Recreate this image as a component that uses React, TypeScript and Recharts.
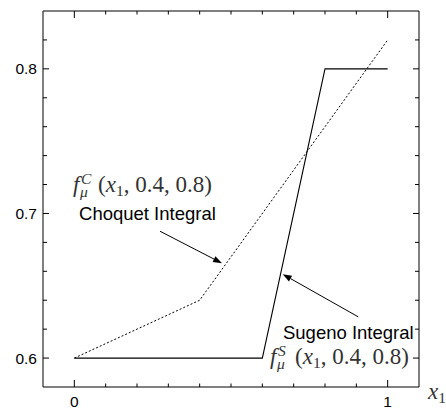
import React from 'react';
import { LineChart, Line, XAxis, YAxis, ReferenceDot, ReferenceLine, ReferenceArea } from 'recharts';

// ---- data ----
const choquetX = [0, 0.4, 1];
const choquetY = [0.6, 0.64, 0.82];
const sugenoX = [0, 0.6, 0.8, 1];
const sugenoY = [0.6, 0.6, 0.8, 0.8];

const xTicks = [0, 0.1, 0.2, 0.3, 0.4, 0.5, 0.6, 0.7, 0.8, 0.9, 1];
const xLabelTicks = [0, 1];
const yTicks = [0.6, 0.62, 0.64, 0.66, 0.68, 0.7, 0.72, 0.74, 0.76, 0.78, 0.8, 0.82];
const yLabelTicks = [0.6, 0.7, 0.8];

const xDomain = [-0.1, 1.1];
const yDomain = [0.58, 0.84];

const choquetData = choquetX.map((x, i) => ({ x, y: choquetY[i] }));
const sugenoData = sugenoX.map((x, i) => ({ x, y: sugenoY[i] }));

// annotation anchors (data coordinates)
const choquetArrow = [{ x: 0.2735, y: 0.6877 }, { x: 0.4713, y: 0.6656 }];
const sugenoArrow = [{ x: 0.9062, y: 0.6285 }, { x: 0.665, y: 0.658 }];
const choquetMath = { x: -0.0073, y: 0.7146 };
const choquetText = { x: 0.015, y: 0.6953 };
const sugenoText = { x: 0.6659, y: 0.6135 };
const sugenoMath = { x: 0.6213, y: 0.5959 };

const SANS = "'Liberation Sans', Arial, Helvetica, sans-serif";
const SERIF = "'Liberation Serif', 'Times New Roman', serif";

const isIn = (v: number, arr: number[]) => arr.some((a) => Math.abs(a - v) < 1e-9);

const BottomTick = (props: any) => {
  const { x, y, payload } = props;
  if (!isIn(payload.value, xLabelTicks)) return <g />;
  return (
    <text x={x} y={y + 19.5} textAnchor="middle" fontFamily={SANS} fontSize={15.5} fill="#000" stroke="none">
      {String(payload.value)}
    </text>
  );
};

const LeftTick = (props: any) => {
  const { x, y, payload } = props;
  if (!isIn(payload.value, yLabelTicks)) return <g />;
  return (
    <text x={x - 6} y={y + 5.5} textAnchor="end" fontFamily={SANS} fontSize={15.5} fill="#000" stroke="none">
      {payload.value.toFixed(1)}
    </text>
  );
};

// inward tick marks at both ends of a reference line
const vTickShape = (major: boolean) => (p: any) => {
  const top = Math.min(p.y1, p.y2);
  const bot = Math.max(p.y1, p.y2);
  const L = major ? 7 : 3.5;
  return (
    <path
      d={`M${p.x1},${top}L${p.x1},${top + L}M${p.x1},${bot}L${p.x1},${bot - L}`}
      stroke="#000"
      strokeWidth={1}
      fill="none"
    />
  );
};

const hTickShape = (major: boolean) => (p: any) => {
  const left = Math.min(p.x1, p.x2);
  const right = Math.max(p.x1, p.x2);
  const L = major ? 6 : 4;
  return (
    <path
      d={`M${left},${p.y1}L${left + L},${p.y1}M${right},${p.y1}L${right - L},${p.y1}`}
      stroke="#000"
      strokeWidth={1}
      fill="none"
    />
  );
};

const Arrow = (props: any) => {
  const { x1, y1, x2, y2 } = props;
  const dx = x2 - x1;
  const dy = y2 - y1;
  const len = Math.sqrt(dx * dx + dy * dy) || 1;
  const ux = dx / len;
  const uy = dy / len;
  const hl = 9;
  const hw = 3.2;
  const bx = x2 - ux * hl;
  const by = y2 - uy * hl;
  return (
    <g>
      <line x1={x1} y1={y1} x2={bx} y2={by} stroke="#000" strokeWidth={1} />
      <polygon
        points={`${x2},${y2} ${bx - uy * hw},${by + ux * hw} ${bx + uy * hw},${by - ux * hw}`}
        fill="#000"
      />
    </g>
  );
};

const mathLabel = (sup: string) => (props: any) => {
  const { cx, cy } = props;
  return (
    <g fill="#333" fontFamily={SERIF}>
      <text x={cx + 1} y={cy} fontSize={23} fontStyle="italic">f</text>
      <text x={cx + 8} y={cy + 5} fontSize={15.5} fontStyle="italic">μ</text>
      <text x={cx + 9} y={cy - 8} fontSize={15.5} fontStyle="italic">{sup}</text>
      <text x={cx + 26} y={cy} fontSize={23}>
        <tspan>(</tspan>
        <tspan fontStyle="italic">x</tspan>
        <tspan fontSize={15.5} dy={4}>1</tspan>
        <tspan dy={-4}>, 0.4, 0.8)</tspan>
      </text>
    </g>
  );
};

const plainLabel = (txt: string) => (props: any) => {
  const { cx, cy } = props;
  return (
    <text x={cx} y={cy} fontFamily={SANS} fontSize={18.5} fill="#000">
      {txt}
    </text>
  );
};

const XLabel = (props: any) => {
  const vb = props.viewBox || {};
  return (
    <text x={vb.x + vb.width + 9} y={vb.y + 12} fontFamily={SERIF} fontSize={23} fill="#333">
      <tspan fontStyle="italic">x</tspan>
      <tspan fontSize={15.5} dy={4}>1</tspan>
    </text>
  );
};

export default function App() {
  return (
    <div style={{ position: 'absolute', left: 0, top: 0, width: 446, height: 408, background: '#fff' }}>
      <LineChart width={446} height={408} margin={{ top: 11, right: 27, bottom: 0, left: 0 }}>
        <XAxis
          xAxisId="bottom"
          dataKey="x"
          type="number"
          orientation="bottom"
          domain={xDomain}
          ticks={xTicks}
          interval={0}
          height={21}
          tickSize={0}
          tickMargin={0}
          tickLine={false}
          tick={<BottomTick />}
          axisLine={false}
          allowDataOverflow
          label={<XLabel />}
        />
        <YAxis
          yAxisId="left"
          type="number"
          orientation="left"
          domain={yDomain}
          ticks={yTicks}
          interval={0}
          width={43}
          tickSize={0}
          tickMargin={0}
          tickLine={false}
          tick={<LeftTick />}
          axisLine={false}
          allowDataOverflow
        />
        <ReferenceArea
          xAxisId="bottom"
          yAxisId="left"
          x1={xDomain[0]}
          x2={xDomain[1]}
          y1={yDomain[0]}
          y2={yDomain[1]}
          fill="none"
          fillOpacity={0}
          stroke="#000"
          strokeWidth={1}
          strokeOpacity={1}
        />
        {xTicks.map((t) => (
          <ReferenceLine
            key={`xt${t}`}
            xAxisId="bottom"
            yAxisId="left"
            x={t}
            shape={vTickShape(isIn(t, xLabelTicks))}
          />
        ))}
        {yTicks.map((t) => (
          <ReferenceLine
            key={`yt${t}`}
            xAxisId="bottom"
            yAxisId="left"
            y={t}
            shape={hTickShape(isIn(t, yLabelTicks))}
          />
        ))}
        <Line
          xAxisId="bottom"
          yAxisId="left"
          data={choquetData}
          dataKey="y"
          stroke="#000"
          strokeWidth={1}
          strokeDasharray="2 2"
          dot={false}
          isAnimationActive={false}
        />
        <Line
          xAxisId="bottom"
          yAxisId="left"
          data={sugenoData}
          dataKey="y"
          stroke="#000"
          strokeWidth={1.1}
          dot={false}
          isAnimationActive={false}
        />
        <ReferenceLine xAxisId="bottom" yAxisId="left" segment={choquetArrow} shape={Arrow} />
        <ReferenceLine xAxisId="bottom" yAxisId="left" segment={sugenoArrow} shape={Arrow} />
        <ReferenceDot xAxisId="bottom" yAxisId="left" x={choquetMath.x} y={choquetMath.y} shape={mathLabel('C')} />
        <ReferenceDot xAxisId="bottom" yAxisId="left" x={choquetText.x} y={choquetText.y} shape={plainLabel('Choquet Integral')} />
        <ReferenceDot xAxisId="bottom" yAxisId="left" x={sugenoText.x} y={sugenoText.y} shape={plainLabel('Sugeno Integral')} />
        <ReferenceDot xAxisId="bottom" yAxisId="left" x={sugenoMath.x} y={sugenoMath.y} shape={mathLabel('S')} />
      </LineChart>
    </div>
  );
}
